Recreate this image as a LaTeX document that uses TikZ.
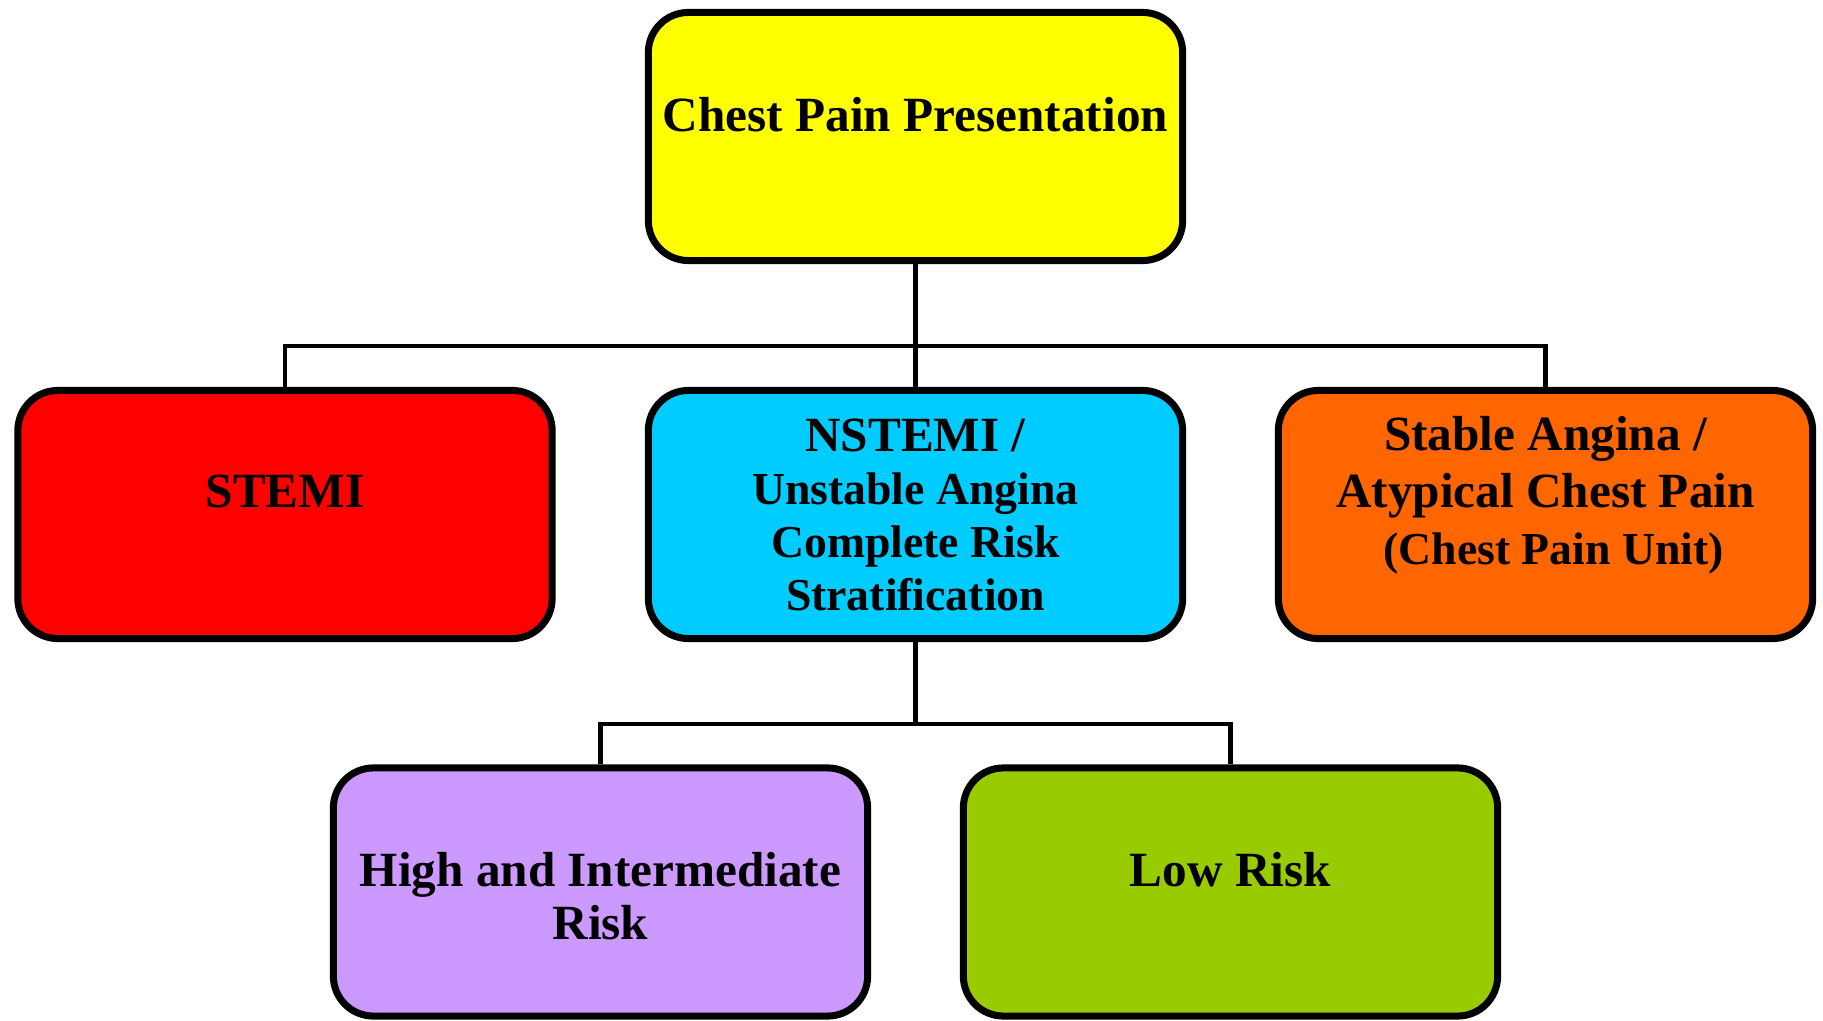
\documentclass[tikz,border=0pt]{standalone}
\usepackage{fontspec}
\setmainfont{Liberation Serif}
\usetikzlibrary{positioning}
\definecolor{present}{HTML}{FFFF00}
\definecolor{stemi}{HTML}{FF0000}
\definecolor{nstemi}{HTML}{00CCFF}
\definecolor{stable}{HTML}{FF6600}
\definecolor{highrisk}{HTML}{CC99FF}
\definecolor{lowrisk}{HTML}{99CC00}
\newcommand{\smalltxt}{\fontsize{13}{15}\selectfont}
\tikzset{
  every node/.style={font=\fontsize{14}{15}\selectfont\bfseries,text=black},
  box/.style={draw=black,line width=2pt,rounded corners=.4cm,inner sep=0pt,
    minimum width=5.34cm,minimum height=2.48cm},
  caption/.style={align=center,inner sep=0pt},
  conn/.style={draw=black,line width=1.4pt}
}
\begin{document}
\begin{tikzpicture}[x=.01cm,y=-.01cm]
  \useasboundingbox (0,0) rectangle (1823,1021);
  % Boxes of the three levels.
  \node[box,fill=present] (chest) at (915.5,136.5) {};
  \node[box,fill=stemi] (stemi) at (285,514.5) {};
  \node[box,fill=nstemi] (nstemi) at (915.5,514.5) {};
  \node[box,fill=stable] (stable) at (1545.5,514.5) {};
  \node[box,fill=highrisk] (high) at (600.5,892) {};
  \node[box,fill=lowrisk] (low) at (1230.5,892) {};
  % Texts, set a little above the middle as in the source.
  \node[caption] (chestlbl) at (915.5,115) {Chest Pain Presentation};
  \node[caption] (stemilbl) at (285,491) {STEMI};
  \node[caption] (nstemilbl) at (915.5,515)
    {NSTEMI /\\{\smalltxt Unstable Angina}\\{\smalltxt Complete Risk}\\{\smalltxt Stratification}};
  \node[caption] (stablelbl) at (1545.5,495)
    {Stable Angina /\\[1.2pt]Atypical Chest Pain\\[1.2pt]{\smalltxt\hspace*{4.6pt}(Chest Pain Unit)}};
  \node[caption] (highlbl) at (600.5,896) {High and Intermediate\\Risk};
  \node[caption] (lowlbl) at (1230.5,870) {Low Risk};
  % Tree connectors.
  \coordinate (split1) at (915.5,346);
  \coordinate (split2) at (915.5,724);
  \draw[conn] (chest.south) -- (nstemi.north);
  \draw[conn] (stemi.north) |- (split1) -| (stable.north);
  \draw[conn] (nstemi.south) -- (split2);
  \draw[conn] (high.north) |- (split2) -| (low.north);
\end{tikzpicture}
\end{document}
